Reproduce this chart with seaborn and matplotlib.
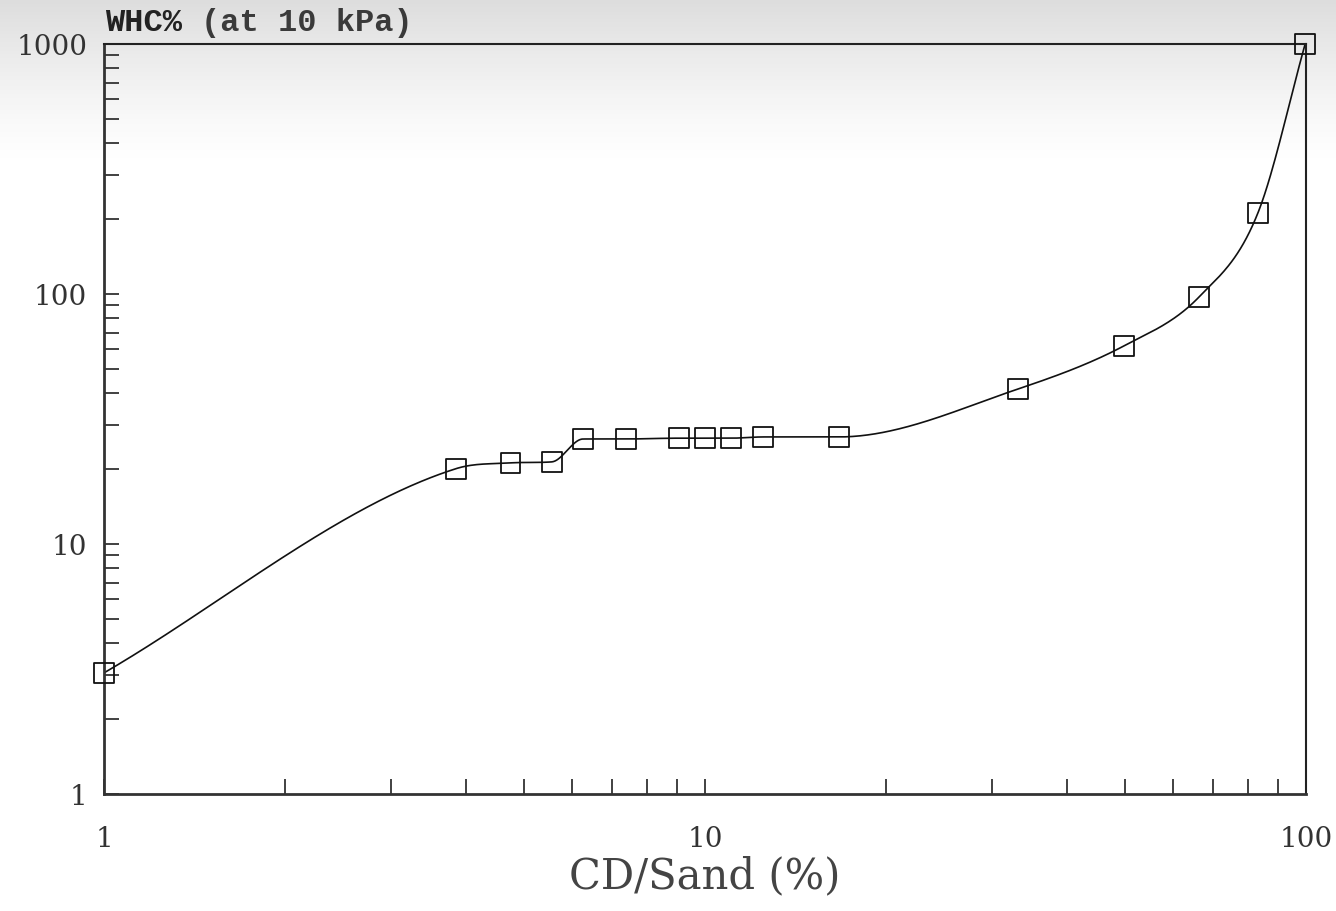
import numpy as np
import matplotlib
matplotlib.use("Agg")
import matplotlib.pyplot as plt
import seaborn as sns

# data
cd_sand = [1.0, 3.85, 4.75, 5.56, 6.27, 7.39, 9.05, 10.0, 11.05, 12.5, 16.7, 33.2, 49.8, 66.4, 83.2, 99.7]
whc = [3.05, 20.0, 21.1, 21.3, 26.3, 26.3, 26.5, 26.5, 26.5, 26.8, 26.8, 41.7, 62.0, 97.3, 211.0, 1000.0]
x_ticks = [1, 10, 100]
y_ticks = [1, 10, 100, 1000]


def hermite(xk, yk, xs):
    # smooth cubic through the points, slopes = mean of neighbouring secants,
    # limited so the curve does not overshoot (Fritsch-Carlson)
    h = np.diff(xk)
    d = np.diff(yk) / h
    m = np.zeros_like(yk)
    m[1:-1] = (d[:-1] + d[1:]) / 2
    m[0] = d[0]
    m[-1] = d[-1]
    for i in range(1, len(xk) - 1):
        if d[i - 1] * d[i] <= 0:
            m[i] = 0
        else:
            m[i] = min(m[i], 3 * min(d[i - 1], d[i]))
    idx = np.clip(np.searchsorted(xk, xs) - 1, 0, len(h) - 1)
    t = (xs - xk[idx]) / h[idx]
    h00 = 2 * t**3 - 3 * t**2 + 1
    h10 = t**3 - 2 * t**2 + t
    h01 = -2 * t**3 + 3 * t**2
    h11 = t**3 - t**2
    return h00 * yk[idx] + h10 * h[idx] * m[idx] + h01 * yk[idx + 1] + h11 * h[idx] * m[idx + 1]


lx = np.log10(cd_sand)
ly = np.log10(whc)
xs = np.linspace(lx[0], lx[-1], 800)
curve_x = 10 ** xs
curve_y = 10 ** hermite(lx, ly, xs)

sns.set_style("white")
fig = plt.figure(figsize=(13.36, 9.12), dpi=100)

# faint grey band at the top of the scan
bg = fig.add_axes([0, 0, 1, 1], zorder=-5)
grad = np.linspace(0, 1, 912)
alpha = np.clip(1 - grad / 0.18, 0, 1) ** 1.3 * 0.3
img = np.ones((912, 1, 4))
img[:, 0, :3] = 0.55
img[:, 0, 3] = alpha
bg.imshow(img, aspect="auto", extent=[0, 1, 0, 1], origin="upper")
bg.axis("off")

ax = fig.add_axes([0.0778, 0.1283, 0.8997, 0.8224])
ax.patch.set_alpha(0)

sns.lineplot(x=curve_x, y=curve_y, ax=ax, color="#111111", linewidth=1.2, sort=False)
sns.scatterplot(x=cd_sand, y=whc, ax=ax, marker="s", s=200, color="black",
                facecolors="none", edgecolors="#111111", linewidth=1.3, zorder=3,
                clip_on=False)

ax.set_xscale("log")
ax.set_yscale("log")
ax.set_xlim(1, 100)
ax.set_ylim(1, 1000)

ax.set_xticks(x_ticks)
ax.set_xticklabels([str(v) for v in x_ticks])
ax.set_yticks(y_ticks)
ax.set_yticklabels([str(v) for v in y_ticks])

serif = ["DejaVu Serif"]
for lab in ax.get_xticklabels() + ax.get_yticklabels():
    lab.set_family(serif)
    lab.set_fontsize(20)
    lab.set_color("#333333")

ax.tick_params(axis="both", which="both", direction="in", length=10.5, width=1.3,
               color="#333333", left=True, bottom=True, top=False, right=False)
ax.tick_params(axis="x", which="both", pad=22)
ax.tick_params(axis="y", which="both", pad=12)

for side in ["left", "bottom"]:
    ax.spines[side].set_linewidth(2)
    ax.spines[side].set_color("#333333")
for side in ["top", "right"]:
    ax.spines[side].set_linewidth(1.5)
    ax.spines[side].set_color("#222222")

ax.set_xlabel("CD/Sand (%)", family=serif, fontsize=30, color="#444444", labelpad=2)
ax.set_ylabel("")

mono = ["Liberation Mono", "DejaVu Sans Mono"]
fig.text(0.0785, 0.975, "WHC%", family=mono, fontsize=23, fontweight="bold",
         color="#222222", ha="left", va="center")
fig.text(0.0785 + 0.0575 + 0.0142, 0.975, "(at 10 kPa)", family=mono, fontsize=23,
         fontweight="bold", color="#3a3a3a", ha="left", va="center")

fig.savefig("out.png", dpi=100)
